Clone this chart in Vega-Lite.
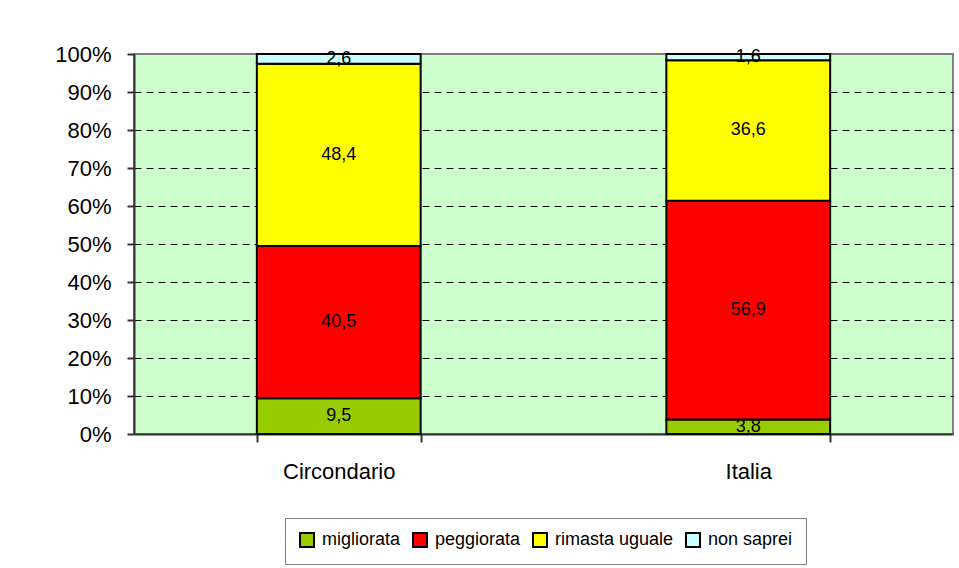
{
  "$schema": "https://vega.github.io/schema/vega-lite/v6.json",
  "width": 819,
  "height": 380,
  "autosize": {"type": "none"},
  "padding": {"left": 134, "top": 54, "right": 6, "bottom": 134},
  "background": "white",
  "config": {
    "locale": {"number": {"decimal": ",", "thousands": ".", "grouping": [3], "currency": ["€", ""]}},
    "view": {"fill": "#CCFFCC", "stroke": "#808080", "strokeWidth": 2},
    "font": "Liberation Sans Narrow, Arial Narrow, Liberation Sans, sans-serif",
    "axisY": {
      "title": null,
      "format": ".0%",
      "grid": true,
      "gridColor": "#000",
      "gridDash": [7, 5],
      "gridWidth": 1,
      "domainColor": "#333",
      "domainWidth": 2,
      "tickColor": "#333",
      "tickWidth": 2,
      "tickSize": 7,
      "labelFontSize": 22,
      "labelColor": "#000",
      "labelPadding": 16,
      "labelOverlap": false
    }
  },
  "data": {
    "values": [
      {"area": "Circondario", "cat": "migliorata", "k": 1, "v": 9.5},
      {"area": "Circondario", "cat": "peggiorata", "k": 2, "v": 40.5},
      {"area": "Circondario", "cat": "rimasta uguale", "k": 3, "v": 48.4},
      {"area": "Circondario", "cat": "non saprei", "k": 4, "v": 2.6},
      {"area": "Italia", "cat": "migliorata", "k": 1, "v": 3.8},
      {"area": "Italia", "cat": "peggiorata", "k": 2, "v": 56.9},
      {"area": "Italia", "cat": "rimasta uguale", "k": 3, "v": 36.6},
      {"area": "Italia", "cat": "non saprei", "k": 4, "v": 1.6}
    ]
  },
  "encoding": {
    "x": {
      "field": "area",
      "type": "nominal",
      "sort": ["Circondario", "Italia"],
      "scale": {"paddingInner": 0.6, "paddingOuter": 0.3},
      "axis": {
        "title": null,
        "labelAngle": 0,
        "labelFontSize": 22,
        "labelColor": "#000",
        "labelPadding": 19,
        "domainColor": "#333",
        "domainWidth": 2,
        "ticks": true,
        "tickBand": "extent",
        "tickColor": "#333",
        "tickWidth": 2,
        "tickSize": 8
      }
    }
  },
  "layer": [
    {
      "mark": {"type": "bar", "stroke": "black", "strokeWidth": 2},
      "encoding": {
        "y": {
          "field": "v",
          "type": "quantitative",
          "stack": "normalize",
          "scale": {"domain": [0, 1]},
          "axis": {
            "values": [0, 0.1, 0.2, 0.3, 0.4, 0.5, 0.6, 0.7, 0.8, 0.9, 1],
            "gridOpacity": {"condition": {"test": "datum.value >= 1 || datum.value <= 0", "value": 0}, "value": 1}
          }
        },
        "color": {
          "field": "cat",
          "type": "nominal",
          "scale": {
            "domain": ["migliorata", "peggiorata", "rimasta uguale", "non saprei"],
            "range": ["#99CC00", "#FF0000", "#FFFF00", "#CCFFFF"]
          },
          "legend": {
            "title": null,
            "orient": "none",
            "legendX": 151,
            "legendY": 464,
            "direction": "horizontal",
            "columns": 4,
            "symbolType": "square",
            "symbolSize": 196,
            "symbolStrokeColor": "black",
            "symbolStrokeWidth": 2,
            "labelFontSize": 18,
            "labelColor": "#000",
            "labelOffset": 6,
            "columnPadding": 8,
            "padding": 13,
            "strokeColor": "#808080",
            "fillColor": "white"
          }
        },
        "order": {"field": "k", "type": "quantitative"}
      }
    },
    {
      "mark": {"type": "text", "fontSize": 18, "color": "#000"},
      "encoding": {
        "y": {
          "field": "v",
          "type": "quantitative",
          "stack": "normalize",
          "bandPosition": 0.5,
          "axis": {
            "values": [0, 0.1, 0.2, 0.3, 0.4, 0.5, 0.6, 0.7, 0.8, 0.9, 1],
            "gridOpacity": {"condition": {"test": "datum.value >= 1 || datum.value <= 0", "value": 0}, "value": 1}
          }
        },
        "detail": {"field": "cat", "type": "nominal"},
        "text": {"field": "v", "type": "quantitative", "format": ".1f"},
        "order": {"field": "k", "type": "quantitative"}
      }
    }
  ]
}
